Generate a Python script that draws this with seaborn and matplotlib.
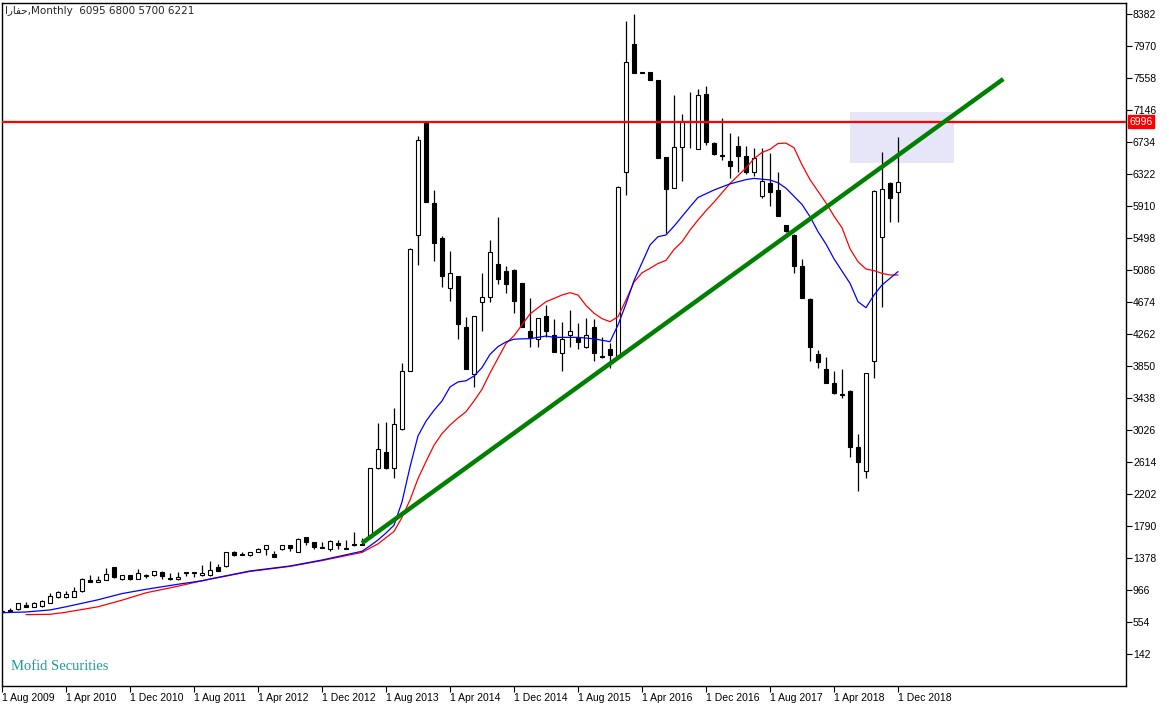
import numpy as np
import pandas as pd
import matplotlib
matplotlib.use("Agg")
import matplotlib.pyplot as plt
import matplotlib.transforms as mtransforms
from matplotlib.patches import Rectangle
import seaborn as sns

sns.set_style("white")
plt.rcParams["font.family"] = ["Liberation Sans", "DejaVu Sans"]

# monthly OHLC, Aug 2009 .. Dec 2018 (index 0 = Aug 2009)
opens = [680, 692, 717, 770, 752, 755, 805, 875, 880, 875, 950, 1095, 1070, 1095, 1258, 1105, 1155, 1112, 1150, 1155,
         1198, 1106, 1104, 1195, 1190, 1155, 1155, 1258, 1275, 1455, 1423, 1413, 1455, 1490, 1430, 1498, 1541, 1455, 1645, 1584,
         1510, 1490, 1575, 1492, 1558, 1560, 1661, 2533, 2743, 2533, 3035, 3782, 5531, 6995, 5944, 5498, 4850, 5009, 4348, 3743,
         4670, 4735, 5163, 5069, 5082, 4919, 4301, 4194, 4494, 4249, 4017, 4245, 4211, 4091, 4348, 3975, 4065, 3983, 6344, 7996,
         7630, 7635, 7528, 6537, 6146, 6666, 6990, 6644, 7348, 6721, 6556, 6490, 6679, 6554, 6352, 6043, 6202, 6112, 5666, 5537,
         5138, 4713, 4000, 3811, 3627, 3480, 3528, 2803, 2502, 3910, 5506, 6206, 6095]
highs = [700, 740, 800, 810, 806, 840, 923, 950, 950, 1010, 1120, 1155, 1150, 1249, 1265, 1160, 1160, 1240, 1175, 1210,
         1205, 1180, 1198, 1198, 1195, 1285, 1335, 1300, 1460, 1472, 1460, 1460, 1505, 1545, 1464, 1545, 1545, 1630, 1650, 1590,
         1584, 1610, 1610, 1610, 1713, 1640, 2540, 3120, 3133, 3310, 3885, 5370, 6811, 6996, 6116, 5520, 5331, 5015, 4481, 4495,
         5047, 5473, 5768, 5140, 5100, 4925, 4730, 4470, 4635, 4451, 4421, 4571, 4400, 4464, 4451, 4227, 4142, 6165, 8296, 8382,
         7635, 7640, 7535, 6545, 7339, 7095, 7373, 7416, 7455, 6735, 7039, 6854, 6811, 6679, 6653, 6653, 6588, 6344, 5670, 5545,
         5224, 4720, 4056, 3961, 3786, 3811, 3535, 2975, 3760, 6110, 6601, 6215, 6800]
lows = [670, 685, 712, 745, 748, 750, 800, 862, 862, 870, 945, 1065, 1065, 1090, 1125, 1095, 1100, 1105, 1125, 1150,
        1112, 1100, 1100, 1146, 1130, 1150, 1150, 1210, 1258, 1410, 1418, 1410, 1450, 1413, 1390, 1480, 1472, 1450, 1541, 1498,
        1505, 1472, 1490, 1488, 1538, 1540, 1655, 2530, 2530, 2412, 3030, 3780, 5155, 5960, 5206, 4863, 4691, 4194, 3810, 3576,
        4305, 4678, 4910, 4794, 4536, 4350, 4099, 4099, 4227, 4030, 3789, 4099, 4065, 4088, 3918, 3950, 3820, 3980, 6052, 7620,
        7620, 7530, 6525, 5559, 6140, 6232, 6662, 6640, 6696, 6570, 6502, 6267, 6352, 6326, 6300, 6017, 5910, 5780, 5580, 5052,
        4725, 3910, 3820, 3630, 3495, 3434, 2683, 2245, 2412, 3700, 4614, 5708, 5700]
closes = [690, 690, 795, 752, 802, 828, 889, 940, 915, 950, 1104, 1070, 1095, 1168, 1130, 1155, 1110, 1180, 1152, 1206,
          1146, 1104, 1138, 1188, 1188, 1190, 1224, 1215, 1455, 1413, 1421, 1455, 1498, 1541, 1395, 1541, 1507, 1627, 1584, 1515,
          1507, 1593, 1541, 1490, 1541, 1545, 2537, 2777, 2541, 3103, 3782, 5353, 6760, 5965, 5437, 5013, 5043, 4395, 3816, 4490,
          4735, 5314, 4974, 4910, 4691, 4356, 4227, 4465, 4301, 4034, 4194, 4296, 4163, 4245, 4021, 3968, 3992, 6159, 7760, 7627,
          7625, 7536, 6532, 6133, 6666, 7004, 7005, 7339, 6738, 6576, 6552, 6429, 6558, 6352, 6524, 6232, 6094, 5785, 5584, 5142,
          4730, 4099, 3897, 3635, 3499, 3475, 2811, 2618, 3757, 6103, 6124, 6008, 6221]

# moving averages (month index, price)
ma_blue_x = [0, 3, 6, 8, 12, 15, 18, 22, 25, 26, 31, 36, 40, 45, 46, 47, 48, 49, 50, 51, 52, 53, 54, 55, 56, 57, 58, 59,
             60, 61, 62, 63, 64, 65, 66, 68, 69, 72, 74, 76, 77, 78, 79, 81, 82, 83, 84, 86, 87, 89, 91, 93, 94, 96, 97,
             98, 100, 101, 102, 103, 104, 106, 107, 108, 109, 110, 111, 112]
ma_blue_y = [674, 683, 709, 750, 840, 920, 975, 1040, 1085, 1108, 1211, 1275, 1352, 1465, 1535, 1610, 1700, 1800, 2100, 2550,
             2950, 3140, 3280, 3400, 3580, 3645, 3660, 3720, 3830, 4000, 4100, 4160, 4195, 4200, 4202, 4236, 4219, 4219, 4200,
             4163, 4378, 4650, 4950, 5408, 5515, 5537, 5650, 5900, 6020, 6116, 6195, 6250, 6266, 6245, 6210, 6140, 5930, 5773,
             5580, 5420, 5230, 4915, 4678, 4601, 4764, 4893, 4979, 5065]
ma_red_x = [3, 6, 8, 12, 15, 18, 22, 25, 26, 31, 36, 40, 45, 47, 48, 49, 50, 51, 52, 53, 54, 55, 56, 57, 58, 59, 60, 61,
            62, 63, 64, 65, 66, 67, 68, 69, 70, 71, 72, 73, 74, 75, 76, 77, 78, 79, 80, 81, 82, 83, 84, 85, 86, 87, 88,
            89, 90, 91, 92, 93, 94, 95, 96, 97, 98, 99, 100, 101, 102, 103, 104, 105, 106, 107, 108, 109, 110, 111, 112]
ma_red_y = [649, 653, 680, 750, 835, 930, 1015, 1085, 1105, 1205, 1270, 1345, 1450, 1560, 1640, 1720, 1900, 2125, 2400, 2620,
            2830, 2980, 3090, 3180, 3262, 3400, 3550, 3760, 3950, 4140, 4240, 4380, 4520, 4600, 4678, 4720, 4764, 4794, 4764,
            4630, 4530, 4460, 4421, 4485, 4700, 4930, 5050, 5108, 5170, 5210, 5350, 5450, 5600, 5730, 5850, 5960, 6080, 6200,
            6300, 6400, 6520, 6600, 6640, 6715, 6720, 6660, 6440, 6250, 6100, 5950, 5780, 5630, 5360, 5193, 5099, 5078, 5043,
            5022, 5022]

x_tick_pos = [0, 8, 16, 24, 32, 40, 48, 56, 64, 72, 80, 88, 96, 104, 112]
x_tick_labels = ["1 Aug 2009", "1 Apr 2010", "1 Dec 2010", "1 Aug 2011", "1 Apr 2012", "1 Dec 2012", "1 Aug 2013",
                 "1 Apr 2014", "1 Dec 2014", "1 Aug 2015", "1 Apr 2016", "1 Dec 2016", "1 Aug 2017", "1 Apr 2018",
                 "1 Dec 2018"]
y_ticks = [142, 554, 966, 1378, 1790, 2202, 2614, 3026, 3438, 3850, 4262, 4674, 5086, 5498, 5910, 6322, 6734, 7146,
           7558, 7970, 8382]

level = 6996
trend_x = [45.0, 125.16]
trend_y = [1570, 7545]
zone_x = [106.0, 119.0]
zone_y = [6468, 7120]

df = pd.DataFrame({"open": opens, "high": highs, "low": lows, "close": closes})
df["i"] = np.arange(len(df))
up = df["close"] >= df["open"]

fig = plt.figure(figsize=(11.69, 7.09), dpi=100)
ax = fig.add_axes([2 / 1169, 1 - 686 / 709, 1124 / 1169, 683 / 709])
ax.set_xlim(0, 140.5)
ax.set_ylim(-270, 8524)

# highlighted zone
ax.add_patch(Rectangle((zone_x[0], zone_y[0]), zone_x[1] - zone_x[0], zone_y[1] - zone_y[0],
                       facecolor="#e6e6f8", edgecolor="none", zorder=0))

# candles
ax.vlines(df["i"], df["low"], df["high"], color="black", lw=0.9, zorder=2)
body_lo = df[["open", "close"]].min(axis=1)
body_h = (df["close"] - df["open"]).abs().clip(lower=13)
ax.bar(df["i"][up], body_h[up], bottom=body_lo[up], width=0.6, facecolor="white",
       edgecolor="black", linewidth=0.8, zorder=3)
ax.bar(df["i"][~up], body_h[~up], bottom=body_lo[~up], width=0.6, facecolor="black",
       edgecolor="black", linewidth=0.8, zorder=3)

# moving averages
sns.lineplot(x=ma_red_x, y=ma_red_y, color="red", lw=0.9, ax=ax, zorder=4)
sns.lineplot(x=ma_blue_x, y=ma_blue_y, color="blue", lw=0.9, ax=ax, zorder=4)

# horizontal level + trend line
ax.axhline(level, color="red", lw=1.6, zorder=4)
ax.plot(trend_x, trend_y, color="#008000", lw=3.2, solid_capstyle="butt", zorder=5)

trans = mtransforms.blended_transform_factory(ax.transAxes, ax.transData)
ax.text(1.003, level, str(level), transform=trans, color="white", fontsize=7.5, va="center", ha="left",
        bbox=dict(facecolor="red", edgecolor="red", pad=1.2), zorder=6, clip_on=False)

# axes styling
for s in ax.spines.values():
    s.set_color("black")
    s.set_linewidth(1)
ax.yaxis.tick_right()
ax.set_yticks(y_ticks)
ax.set_yticklabels([str(v) for v in y_ticks])
ax.set_xticks(x_tick_pos)
ax.set_xticklabels(x_tick_labels)
for lab in ax.get_xticklabels():
    lab.set_ha("left")
ax.tick_params(axis="y", direction="out", length=4, width=0.8, pad=1, labelsize=7.5, colors="black", right=True)
ax.tick_params(axis="x", direction="out", length=4, width=0.8, pad=1, labelsize=7.5, colors="black", bottom=True)
ax.set_xlabel("")
ax.set_ylabel("")
ax.grid(False)

# title (Arabic in visual order, presentation forms)
title = "\ufe8d\ufead\ufe8e\ufed4\ufea3,Monthly  6095 6800 5700 6221"
fig.text(5 / 1169, 1 - 11 / 709, title, fontsize=7.5, va="center", ha="left",
         family=["DejaVu Sans"])
fig.text(11 / 1169, 1 - 666 / 709, "Mofid Securities", fontsize=10.5, color="#1f9a9a",
         family=["Liberation Serif", "DejaVu Serif"], va="center", ha="left")

fig.savefig("out.png", dpi=100)
